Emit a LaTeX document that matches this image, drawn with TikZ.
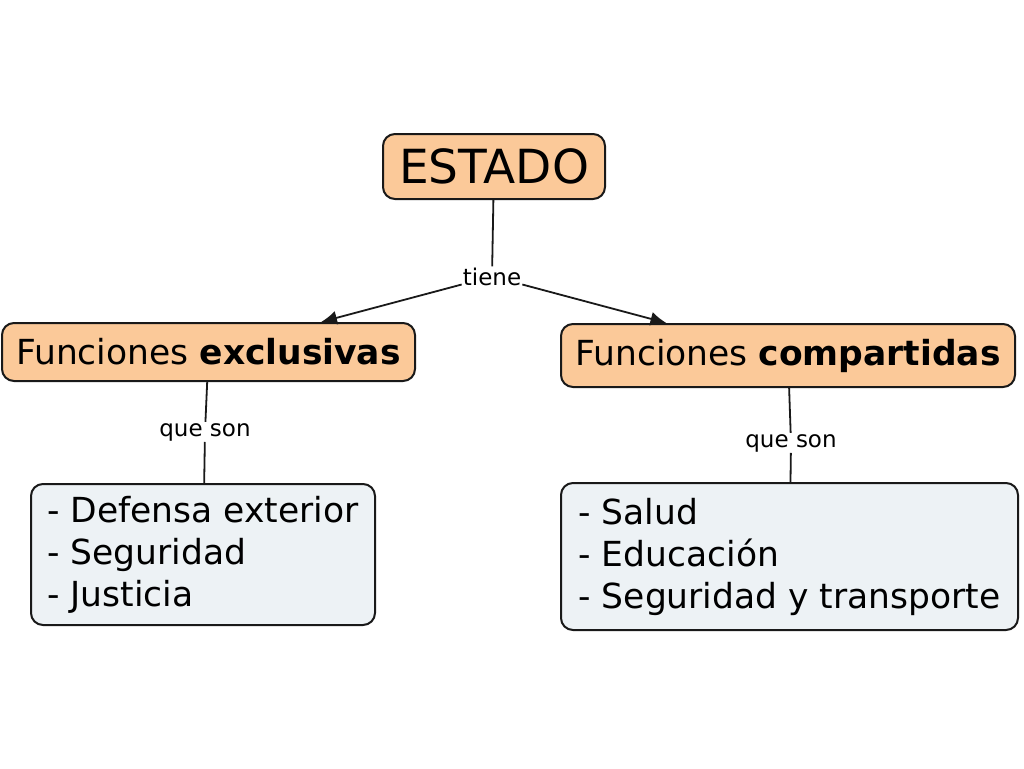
\documentclass[tikz,border=0pt]{standalone}
\usepackage{fontspec}
\setmainfont{DejaVu Sans}
\usetikzlibrary{arrows.meta}
\definecolor{orangefill}{RGB}{251,201,153}
\definecolor{bluefill}{RGB}{237,242,245}
\definecolor{edge}{RGB}{25,25,25}
\begin{document}
\begin{tikzpicture}[x=1pt,y=-1pt,
  concept/.style={draw=edge,line width=2pt,rounded corners=12pt,fill=orangefill,inner sep=0pt},
  listbox/.style={draw=edge,line width=2pt,rounded corners=12pt,fill=bluefill,inner sep=0pt,
     align=left,font=\fontsize{34.5}{42}\selectfont},
  linklabel/.style={fill=white,inner sep=1pt,font=\fontsize{23}{25}\selectfont},
  conn/.style={draw=edge,line width=1.8pt},
  arr/.style={conn,-{Latex[length=16pt,width=14pt]}}]
\useasboundingbox[fill=white] (0,0) rectangle (1024,768);
% concepts
\node[concept,minimum width=222pt,minimum height=65pt,font=\fontsize{47}{52}\selectfont] (estado) at (494,166.5) {ESTADO};
\node[concept,minimum width=413pt,minimum height=58pt,font=\fontsize{34.5}{40}\selectfont] (fe) at (208.5,352) {Funciones \textbf{exclusivas}};
\node[concept,minimum width=454pt,minimum height=63pt,font=\fontsize{34.5}{40}\selectfont] (fc) at (788,355.5) {Funciones \textbf{compartidas}};
% lists
\node[listbox,minimum width=344pt,minimum height=141pt] (lb) at (203,554.5) {- Defensa exterior\\- Seguridad\\- Justicia};
\node[listbox,minimum width=457pt,minimum height=147pt] (rb) at (789.5,556.5) {- Salud\\- Educación\\- Seguridad y transporte};
% linking phrases
\node[linklabel,anchor=base] (tiene) at (492,285) {tiene};
\node[linklabel,anchor=base] (qs1) at (205,436) {que son};
\node[linklabel,anchor=base] (qs2) at (791,447) {que son};
% connectors
\draw[conn] (estado) -- (tiene);
\draw[arr] (tiene) -- (fe);
\draw[arr] (tiene) -- (fc);
\draw[conn] (fe) -- (qs1);
\draw[conn] (qs1) -- (lb);
\draw[conn] (fc) -- (qs2);
\draw[conn] (qs2) -- (rb);
\end{tikzpicture}
\end{document}
